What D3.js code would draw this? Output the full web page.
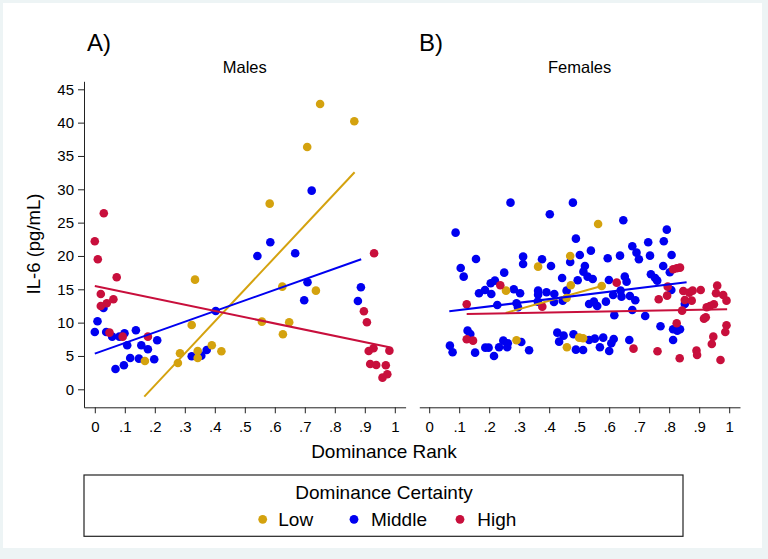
<!DOCTYPE html>
<html><head><meta charset="utf-8">
<script src="https://cdn.jsdelivr.net/npm/d3@7"></script>
<style>
html,body{margin:0;padding:0;background:#edf4f5;}
svg{display:block;font-family:"Liberation Sans",Arial,sans-serif;}
</style></head>
<body><div id="chart"></div>
<script>
// ---------- data ----------
const groups = ["Low","Middle","High"];
const colors = {Low:"#d4a20e", Middle:"#0000f0", High:"#c80f3c"};
const panelTitles = ["Males","Females"];
const panelLetters = ["A)","B)"];
const xTicks = [0,0.1,0.2,0.3,0.4,0.5,0.6,0.7,0.8,0.9,1];
const yTicks = [0,5,10,15,20,25,30,35,40,45];

const malesLow = [[0.751,42.8],[0.865,40.2],[0.708,36.35],[0.583,27.85],[0.334,16.45],[0.625,15.4],[0.737,14.8],[0.323,9.65],[0.557,10.15],[0.648,10.05],[0.627,8.25],[0.167,4.25],[0.284,5.4],[0.277,3.95],[0.343,5.75],[0.343,4.7],[0.39,6.6],[0.422,5.7]];
const malesMiddle = [[0.723,29.8],[0.585,22.05],[0.542,20.0],[0.668,20.4],[0.709,16.05],[0.698,13.35],[0.887,15.3],[0.877,13.25],[0.403,11.75],[0.029,12.2],[0.009,10.2],[0.0,8.6],[0.038,8.6],[0.058,7.9],[0.082,7.9],[0.099,8.4],[0.137,8.85],[0.108,6.6],[0.155,6.6],[0.177,6.0],[0.208,7.35],[0.118,4.7],[0.147,4.6],[0.198,4.5],[0.097,3.6],[0.069,3.05],[0.323,4.95],[0.355,5.05],[0.373,5.9]];
const malesHigh = [[0.03,26.4],[0.0,22.2],[0.01,19.5],[0.073,16.8],[0.02,14.3],[0.02,12.5],[0.04,12.9],[0.062,13.5],[0.049,8.5],[0.093,7.9],[0.177,7.9],[0.931,20.4],[0.897,11.7],[0.907,10.05],[0.913,5.75],[0.929,6.15],[0.982,5.8],[0.918,3.8],[0.938,3.65],[0.97,3.6],[0.975,2.25],[0.959,1.75]];

const femalesLow = [[0.563,24.8],[0.47,20.0],[0.363,18.4],[0.472,15.6],[0.575,15.5],[0.256,14.8],[0.458,13.7],[0.291,7.35],[0.459,6.3],[0.5,7.75],[0.513,7.65]];
const femalesMiddle = [[0.271,28.0],[0.402,26.25],[0.479,28.0],[0.088,23.5],[0.489,22.6],[0.647,25.35],[0.539,20.8],[0.677,21.45],[0.73,22.05],[0.782,22.2],[0.792,23.95],
[0.105,18.2],[0.115,16.9],[0.156,19.55],[0.313,19.9],[0.313,18.8],[0.376,19.5],[0.406,18.5],[0.47,19.1],[0.25,17.5],[0.443,16.7],[0.495,16.35],[0.205,15.9],[0.219,16.3],[0.166,14.4],[0.186,14.9],[0.207,14.3],[0.282,15.0],[0.303,14.4],[0.363,14.8],[0.363,14.2],[0.391,14.55],[0.417,14.3],[0.458,14.8],[0.445,13.3],[0.416,13.1],[0.362,13.15],[0.291,12.9],[0.296,12.3],[0.227,12.65],
[0.128,8.8],[0.137,8.3],[0.069,6.55],[0.078,5.55],[0.153,5.5],[0.187,6.25],[0.198,6.25],[0.216,5.0],[0.233,6.3],[0.247,7.3],[0.262,6.9],[0.26,6.3],[0.307,7.1],[0.333,5.85],[0.427,8.5],[0.448,8.05],[0.433,7.15],[0.481,8.25],[0.489,5.95],
[0.502,20.15],[0.595,19.65],[0.636,20.05],[0.691,20.5],[0.699,19.5],[0.736,20.05],[0.808,20.15],[0.78,18.5],[0.802,17.55],[0.519,18.5],[0.514,17.65],[0.528,16.9],[0.545,16.55],[0.599,16.4],[0.652,16.9],[0.658,16.15],[0.739,17.25],[0.753,16.7],[0.76,16.3],[0.807,14.9],[0.638,14.8],[0.613,14.15],[0.641,13.9],[0.669,14.0],[0.687,13.35],[0.533,12.8],[0.549,13.15],[0.56,12.5],[0.589,13.15],[0.677,11.9],[0.617,11.1],[0.72,11.0],[0.852,12.8],[0.771,9.45],[0.813,9.0],[0.827,8.8],[0.836,9.0],[0.813,7.4],[0.513,5.9],[0.533,7.4],[0.552,7.6],[0.58,7.75],[0.569,6.3],[0.6,5.75],[0.607,6.9],[0.615,7.55],[0.667,7.4]];
const femalesHigh = [[0.237,15.6],[0.377,12.4],[0.125,12.75],[0.125,7.5],[0.146,7.3],[0.813,18.0],[0.825,18.15],[0.836,18.25],[0.625,16.0],[0.795,15.4],[0.765,13.5],[0.793,14.05],[0.847,14.75],[0.867,14.5],[0.878,14.8],[0.852,13.4],[0.875,13.3],[0.905,14.9],[0.96,15.55],[0.956,14.4],[0.98,14.15],[0.991,13.3],[0.949,12.75],[0.936,12.5],[0.925,12.3],[0.843,11.8],[0.922,10.8],[0.916,10.6],[0.825,9.9],[0.991,9.6],[0.987,8.6],[0.947,7.9],[0.942,6.8],[0.891,5.8],[0.893,5.15],[0.971,4.4],[0.835,4.65],[0.761,5.7],[0.681,6.1]];

// fitted regression lines (start and end points)
const malesFit = {Low:[[0.165,-1.1],[0.866,32.55]], Middle:[[0.0,5.35],[0.888,19.5]], High:[[0.0,15.5],[0.982,6.3]]};
const femalesFit = {Low:[[0.255,11.45],[0.575,15.5]], Middle:[[0.067,11.7],[0.858,16.05]], High:[[0.125,11.3],[0.993,12.0]]};

const panels = [
  {data:{Low:malesLow, Middle:malesMiddle, High:malesHigh}, fit:malesFit},
  {data:{Low:femalesLow, Middle:femalesMiddle, High:femalesHigh}, fit:femalesFit}
];

// ---------- layout ----------
const W = 768, H = 559;
const svg = d3.select("#chart").append("svg").attr("width",W).attr("height",H);
svg.append("rect").attr("x",0).attr("y",0).attr("width",W).attr("height",H).attr("fill","#edf4f5");
svg.append("rect").attr("x",3).attr("y",3).attr("width",759).attr("height",545).attr("fill","#fff");

const y = d3.scaleLinear().domain([-2.7,46.2]).range([407.3,81.3]);
const xRanges = [[84,405.6],[419.3,740]];
const xScales = xRanges.map((r,i)=> d3.scaleLinear().domain(i===0?[-0.036,1.036]:[-0.033,1.036]).range(r));
const fmtX = d => d===0?"0":(d===1?"1":d3.format(".1f")(d).replace(/^0/,""));

// y axis (left panel only)
const yAxis = svg.append("g").attr("transform","translate(84,0)")
  .call(d3.axisLeft(y).tickValues(yTicks).tickSize(6).tickSizeOuter(0).tickPadding(4));
yAxis.selectAll("text").attr("font-size","15px").attr("fill","#000").attr("font-family","Liberation Sans, Arial");
yAxis.selectAll("line,path").attr("stroke","#222");

svg.append("text").attr("transform","translate(40,244) rotate(-90)")
  .attr("text-anchor","middle").attr("font-size","18.5px").text("IL-6 (pg/mL)");

panels.forEach((p,i)=>{
  const x = xScales[i];
  const ax = svg.append("g").attr("transform","translate(0,407.3)")
    .call(d3.axisBottom(x).tickValues(xTicks).tickFormat(fmtX).tickSize(6).tickSizeOuter(0).tickPadding(8));
  ax.selectAll("text").attr("font-size","15px").attr("fill","#000").attr("font-family","Liberation Sans, Arial");
  ax.selectAll("line,path").attr("stroke","#222");

  const cx = (xRanges[i][0]+xRanges[i][1])/2;
  svg.append("text").attr("x",cx).attr("y",73.3).attr("text-anchor","middle").attr("font-size","16.5px").text(panelTitles[i]);
  svg.append("text").attr("x",i===0?87:419).attr("y",50.5).attr("font-size","24px").text(panelLetters[i]);

  const g = svg.append("g");
  ["Middle","Low","High"].forEach(k=>{
    g.selectAll(null).data(p.data[k]).enter().append("circle")
      .attr("cx",d=>x(d[0])).attr("cy",d=>y(d[1])).attr("r",4.3).attr("fill",colors[k]);
  });
  groups.forEach(k=>{
    g.append("path").datum(p.fit[k])
      .attr("d",d3.line().x(d=>x(d[0])).y(d=>y(d[1])))
      .attr("stroke",colors[k]).attr("stroke-width",2).attr("fill","none");
  });
});

svg.append("text").attr("x",384).attr("y",458.3).attr("text-anchor","middle").attr("font-size","19px").text("Dominance Rank");

// legend
svg.append("rect").attr("x",84).attr("y",475).attr("width",599).attr("height",61.3)
  .attr("fill","#fff").attr("stroke","#222").attr("stroke-width",1.2);
svg.append("text").attr("x",384).attr("y",499.3).attr("text-anchor","middle").attr("font-size","19px").text("Dominance Certainty");
const legPos = {Low:[262.7,278.3], Middle:[354,371], High:[460,477.3]};
groups.forEach(k=>{
  svg.append("circle").attr("cx",legPos[k][0]).attr("cy",519.3).attr("r",4.4).attr("fill",colors[k]);
  svg.append("text").attr("x",legPos[k][1]).attr("y",525.9).attr("font-size","19px").text(k);
});
</script></body></html>
